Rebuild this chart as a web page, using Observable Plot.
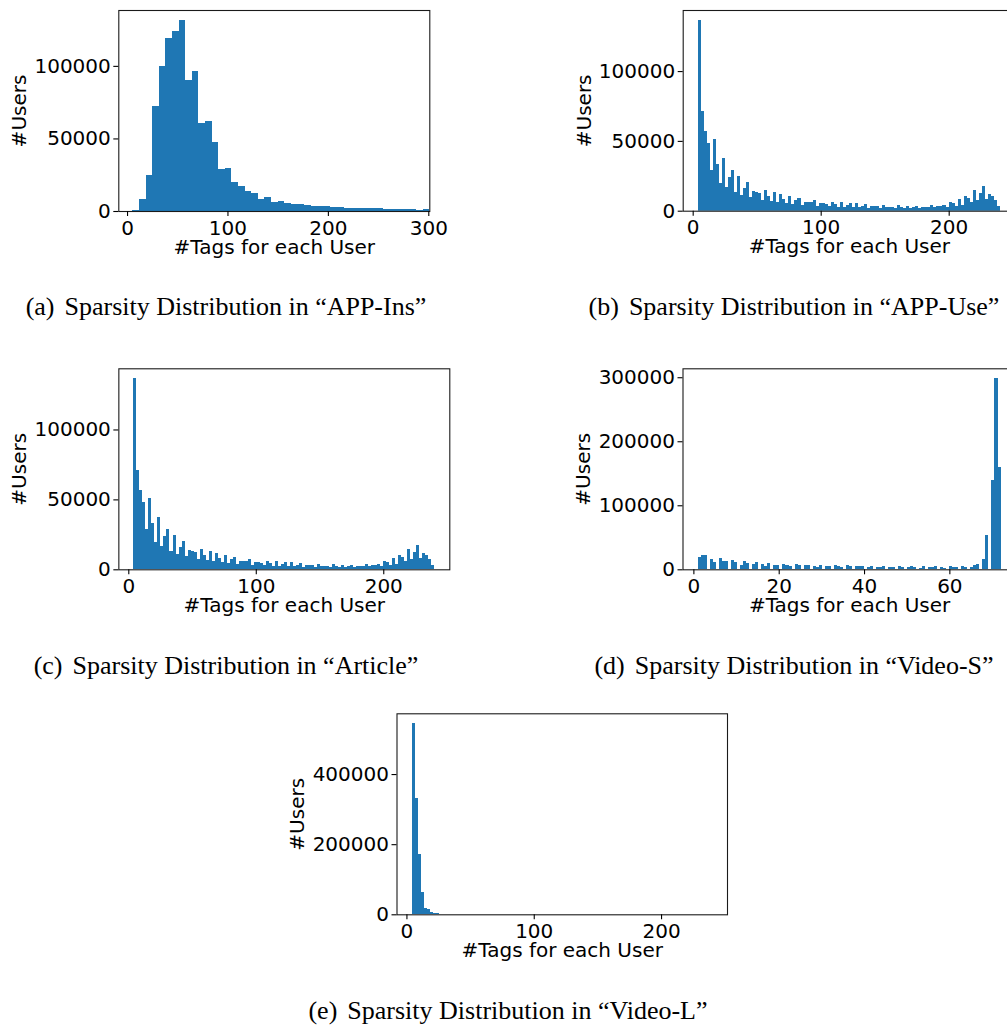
<!DOCTYPE html>
<html><head><meta charset="utf-8">
<script src="https://cdn.jsdelivr.net/npm/d3@7"></script>
<script src="https://cdn.jsdelivr.net/npm/@observablehq/plot@0.6"></script>
<style>
html,body{margin:0;padding:0;background:#fff;}
#root{position:relative;width:1007px;height:1026px;overflow:hidden;background:#fff;}
.panel{position:absolute;}
.panel svg{max-width:none !important;overflow:visible;}
.cap{position:absolute;font-family:"Liberation Serif","Times New Roman",serif;font-size:26px;white-space:nowrap;transform:translateX(-50%);line-height:26px;color:#000;}
.cap .tag{margin-right:10px;}
</style></head><body><div id="root"></div>
<script>
// ---------------- data ----------------
// (a) APP-Ins: counts per histogram bin, equal-width bins over appInsBinRange
const appInsCounts = [700, 8200, 25000, 72100, 99600, 118900, 124300, 131900, 90000, 96200,
  60500, 61800, 47400, 28900, 29500, 19900, 17200, 13700, 12600, 8200,
  9600, 6200, 6900, 5500, 4800, 4800, 4100, 3400, 3400, 3400,
  2700, 2700, 2100, 2100, 2100, 2100, 2100, 2100, 1400, 1400,
  1400, 1400, 1400, 900, 1400];
const appInsBinRange = [5.3, 301];
const appInsXlim = [-8.7, 301];

// (b) APP-Use: 100 bins over [4, 240]
const appUseCounts = [136900, 71200, 56900, 48300, 29000, 51200, 33300, 19800, 37600, 16900,
  24000, 29000, 13300, 24800, 11200, 16200, 20500, 9800, 14000, 13300,
  12600, 7600, 14800, 10500, 6900, 13300, 6200, 11900, 8300, 5500,
  10500, 4800, 7600, 9000, 4000, 6200, 6200, 6200, 7600, 3300,
  5500, 5500, 4800, 3300, 6200, 4800, 2600, 6200, 2600, 4000,
  5500, 2600, 5500, 2600, 3300, 4800, 1900, 3300, 3300, 3300,
  1900, 4000, 2600, 2600, 2600, 1900, 4000, 2600, 1900, 3300,
  1900, 2600, 3300, 1900, 2600, 2600, 2600, 4000, 2600, 3300,
  3300, 4000, 2600, 6200, 5500, 3300, 8300, 4000, 10500, 9000,
  6200, 14800, 7600, 12600, 17600, 8300, 11900, 10500, 7600, 3300];
const appUseBinRange = [4, 240];

// (c) Article: 100 bins over [4, 240]
const articleCounts = [136900, 71200, 56900, 48300, 29000, 51200, 33300, 19800, 37600, 16900,
  24000, 29000, 13300, 24800, 11200, 16200, 20500, 9800, 14000, 13300,
  12600, 7600, 14800, 10500, 6900, 13300, 6200, 11900, 8300, 5500,
  10500, 4800, 7600, 9000, 4000, 6200, 6200, 6200, 7600, 3300,
  5500, 5500, 4800, 3300, 6200, 4800, 2600, 6200, 2600, 4000,
  5500, 2600, 5500, 2600, 3300, 4800, 1900, 3300, 3300, 3300,
  1900, 4000, 2600, 2600, 2600, 1900, 4000, 2600, 1900, 3300,
  1900, 2600, 3300, 1900, 2600, 2600, 2600, 4000, 2600, 3300,
  3300, 4000, 2600, 6200, 5500, 3300, 8300, 4000, 10500, 9000,
  6200, 14800, 7600, 12600, 17600, 8300, 11900, 10500, 7600, 3300];
const articleBinRange = [4, 240];

// (d) Video-S: users per integer #tags value, binned into 100 bins
const videoSTags = [1, 2, 3, 4, 5, 6, 7, 8, 9, 10, 11, 12, 13, 14, 15, 16, 17, 18, 19, 20,
  21, 22, 23, 24, 25, 26, 27, 28, 29, 30, 31, 32, 33, 34, 35, 36, 37, 38, 39, 40,
  41, 42, 43, 44, 45, 46, 47, 48, 49, 50, 51, 52, 53, 54, 55, 56, 57, 58, 59, 60,
  61, 62, 63, 64, 65, 66, 67, 68, 69, 70, 71, 72];
const videoSUsers = [19300, 22400, 22400, 16200, 11500, 17700, 13000, 13000, 14600, 11500,
  6800, 13000, 9900, 8300, 11500, 8300, 5200, 9900, 6800, 6800,
  8300, 6800, 5200, 8300, 6800, 6800, 6800, 5200, 3600, 6800,
  5200, 5200, 6800, 5200, 3600, 6800, 5200, 5200, 5200, 5200,
  3600, 5200, 3600, 3600, 5200, 3600, 3600, 5200, 3600, 3600,
  5200, 3600, 2100, 5200, 3600, 3600, 5200, 3600, 2100, 5200,
  3600, 3600, 5200, 3600, 3600, 6800, 8300, 16200, 53700, 139600, 299000, 160000];

// (e) Video-L: first bins of 100 bins over [4, 240] (remaining bins are empty)
const videoLCounts = [546000, 332000, 172000, 63800, 18100, 15200, 6700, 3800, 2900, 1900, 1000, 1000, 800];
const videoLBinRange = [4, 240];

const tickLabelsX = {a: [0, 100, 200, 300], b: [0, 100, 200], c: [0, 100, 200], d: [0, 20, 40, 60], e: [0, 100, 200]};
const tickLabelsY = {a: [0, 50000, 100000], b: [0, 50000, 100000], c: [0, 50000, 100000], d: [0, 100000, 200000, 300000], e: [0, 200000, 400000]};
const captions = [
  ["(a)", "Sparsity Distribution in \u201CAPP-Ins\u201D"],
  ["(b)", "Sparsity Distribution in \u201CAPP-Use\u201D"],
  ["(c)", "Sparsity Distribution in \u201CArticle\u201D"],
  ["(d)", "Sparsity Distribution in \u201CVideo-S\u201D"],
  ["(e)", "Sparsity Distribution in \u201CVideo-L\u201D"]
];
const xLabel = "#Tags for each User";
const yLabel = "#Users";

// ---------------- helpers ----------------
const NBINS = 100;
function binsFromCounts(counts, range, n) {
  const w = (range[1] - range[0]) / n;
  return counts.map((c, i) => ({x1: range[0] + i * w, x2: range[0] + (i + 1) * w, y: c}));
}
function binsFromValues(values, weights, n) {
  const lo = d3.min(values), hi = d3.max(values), w = (hi - lo) / n;
  const sums = new Array(n).fill(0);
  values.forEach((v, i) => { sums[Math.min(n - 1, Math.floor((v - lo) / w + 1e-9))] += weights[i]; });
  return sums.map((c, i) => ({x1: lo + i * w, x2: lo + (i + 1) * w, y: c})).filter(d => d.y > 0);
}
function autoLim(lo, hi) { const m = 0.05 * (hi - lo); return [lo - m, hi + m]; }

const root = document.getElementById("root");
function panel(o) {
  const [bx, by, W, H] = o.box;
  const [fl, ft, fr, fb] = o.frame;
  const ymax = d3.max(o.bins, d => d.y) * 1.05;
  const chart = Plot.plot({
    width: W, height: H,
    marginLeft: fl - bx, marginTop: ft - by, marginRight: bx + W - fr, marginBottom: by + H - fb,
    style: {fontFamily: "'DejaVu Sans', sans-serif", fontSize: "20px", background: "transparent", color: "#000", overflow: "visible"},
    x: {domain: o.xlim},
    y: {domain: [0, ymax]},
    marks: [
      Plot.rectY(o.bins, {x1: "x1", x2: "x2", y1: 0, y2: "y", fill: "#1f77b4", clip: true, inset: 0, shapeRendering: "crispEdges"}),
      Plot.frame({stroke: "#1a1a1a", strokeWidth: 1.1}),
      Plot.axisX({ticks: o.xticks, tickSize: 5, tickPadding: 4, tickFormat: d => String(d), fontSize: 20, label: null, strokeWidth: 1.1}),
      Plot.axisY({ticks: o.yticks, tickSize: 5, tickPadding: 3, tickFormat: d => String(d), fontSize: 20, label: null, strokeWidth: 1.1}),
      Plot.text([xLabel], {text: d => d, frameAnchor: "bottom", textAnchor: "middle", dy: 42, lineAnchor: "bottom", fontSize: 20}),
      Plot.text([yLabel], {text: d => d, frameAnchor: "left", textAnchor: "middle", lineAnchor: "middle", rotate: -90, dx: -99, fontSize: 20})
    ]
  });
  const div = document.createElement("div");
  div.className = "panel";
  div.style.left = bx + "px"; div.style.top = by + "px"; div.style.width = W + "px"; div.style.height = H + "px";
  div.appendChild(chart);
  root.appendChild(div);
}

panel({box: [0, 0, 470, 270], frame: [118.3, 10, 429.3, 211],
  bins: binsFromCounts(appInsCounts, appInsBinRange, appInsCounts.length), xlim: appInsXlim,
  xticks: tickLabelsX.a, yticks: tickLabelsY.a});
panel({box: [560, 0, 470, 270], frame: [682.7, 10, 1015, 210.7],
  bins: binsFromCounts(appUseCounts, appUseBinRange, NBINS), xlim: autoLim(...appUseBinRange),
  xticks: tickLabelsX.b, yticks: tickLabelsY.b});
panel({box: [0, 358, 470, 270], frame: [118.35, 368.3, 449.3, 569.3],
  bins: binsFromCounts(articleCounts, articleBinRange, NBINS), xlim: autoLim(...articleBinRange),
  xticks: tickLabelsX.c, yticks: tickLabelsY.c});
panel({box: [560, 358, 470, 270], frame: [682.5, 368.3, 1015.7, 569.3],
  bins: binsFromValues(videoSTags, videoSUsers, NBINS), xlim: autoLim(d3.min(videoSTags), d3.max(videoSTags)),
  xticks: tickLabelsX.d, yticks: tickLabelsY.d});
panel({box: [280, 703, 470, 270], frame: [396.5, 713.3, 727, 914.3],
  bins: binsFromCounts(videoLCounts, videoLBinRange, NBINS), xlim: autoLim(...videoLBinRange),
  xticks: tickLabelsX.e, yticks: tickLabelsY.e});

// captions (center x, baseline y)
const capPos = [[226, 316], [794, 316], [226, 674.5], [794, 674.5], [508, 1020]];
captions.forEach(([tag, txt], i) => {
  const d = document.createElement("div");
  d.className = "cap";
  d.style.left = capPos[i][0] + "px";
  d.style.top = (capPos[i][1] - 22) + "px";
  const s = document.createElement("span"); s.className = "tag"; s.textContent = tag;
  d.appendChild(s);
  d.appendChild(document.createTextNode(txt));
  root.appendChild(d);
});
</script></body></html>
